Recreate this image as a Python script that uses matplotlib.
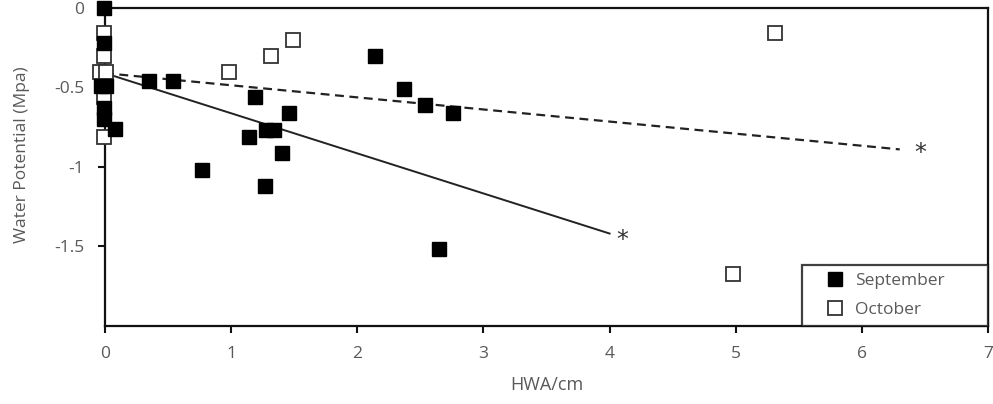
import matplotlib.pyplot as plt

# September (filled squares)
sep_x = [-0.01, -0.01, -0.03, 0.01, -0.01, -0.01, 0.08, 0.35, 0.54, 1.19, 1.14,
         1.28, 1.34, 1.46, 1.40, 0.77, 1.27, 2.14, 2.37, 2.54, 2.76, 2.65]
sep_y = [0.0, -0.22, -0.49, -0.49, -0.63, -0.70, -0.76, -0.46, -0.46, -0.56, -0.81,
         -0.77, -0.77, -0.66, -0.91, -1.02, -1.12, -0.30, -0.51, -0.61, -0.66, -1.52]

# October (open squares)
oct_x = [-0.01, -0.01, -0.04, 0.01, -0.01, -0.01, 0.98, 1.32, 1.49, 5.31, 4.98]
oct_y = [-0.16, -0.30, -0.40, -0.40, -0.56, -0.81, -0.40, -0.30, -0.20, -0.16, -1.675]

# trend lines (end points) and significance stars
sep_fit_x = [0, 4.0]
sep_fit_y = [-0.41, -1.42]
oct_fit_x = [0, 6.3]
oct_fit_y = [-0.41, -0.89]
star_x = [4.1, 6.46]
star_y = [-1.46, -0.91]

grey = '#595959'
plt.rcParams['font.family'] = ['Open Sans', 'DejaVu Sans']

fig = plt.figure(figsize=(9.93, 4.04), dpi=100)
ax = fig.add_axes([0.1057, 0.194, 0.8893, 0.786])

ax.plot(sep_fit_x, sep_fit_y, color='#222222', lw=1.4, zorder=2)
ax.plot(oct_fit_x, oct_fit_y, color='#222222', lw=1.6, ls=(0, (4, 2.5)), zorder=2)

ax.plot(sep_x, sep_y, ls='none', marker='s', ms=10, mfc='black', mec='black',
        mew=1, clip_on=False, zorder=4, label='September')
ax.plot(oct_x, oct_y, ls='none', marker='s', ms=10, mfc='white', mec='#333333',
        mew=1.3, clip_on=False, zorder=3, label='October')

for sx, sy in zip(star_x, star_y):
    ax.text(sx, sy, '*', fontsize=17, color='#333333', ha='center', va='center',
            family='DejaVu Sans')

ax.set_xlim(0, 7)
ax.set_ylim(-2, 0)
ax.set_xticks(range(0, 8))
ax.set_yticks([0, -0.5, -1, -1.5])
ax.set_yticklabels(['0', '-0.5', '-1', '-1.5'])

for s in ax.spines.values():
    s.set_linewidth(1.6)
    s.set_color('#111111')

ax.tick_params(direction='out', length=5, width=1.5, color='#111111',
               labelcolor=grey, labelsize=12.5)
ax.tick_params(axis='x', pad=10)
ax.tick_params(axis='y', pad=10)

ax.set_xlabel('HWA/cm', color=grey, fontsize=13, labelpad=10)
ax.set_ylabel('Water Potential (Mpa)', color=grey, fontsize=12.5)
ax.yaxis.set_label_coords(-0.085, 0.538)

x0 = 0.789
leg = ax.legend(loc='lower left', bbox_to_anchor=(x0, 0.0, 1 - x0, 0.2),
                mode='expand', fontsize=12.5, frameon=True, fancybox=False,
                borderpad=0.45, handlelength=2.9, handletextpad=-0.29,
                labelspacing=0.75, borderaxespad=0)
leg.get_frame().set_edgecolor('#111111')
leg.get_frame().set_linewidth(1.6)
for t in leg.get_texts():
    t.set_color(grey)

fig.savefig('out.png', dpi=100)
